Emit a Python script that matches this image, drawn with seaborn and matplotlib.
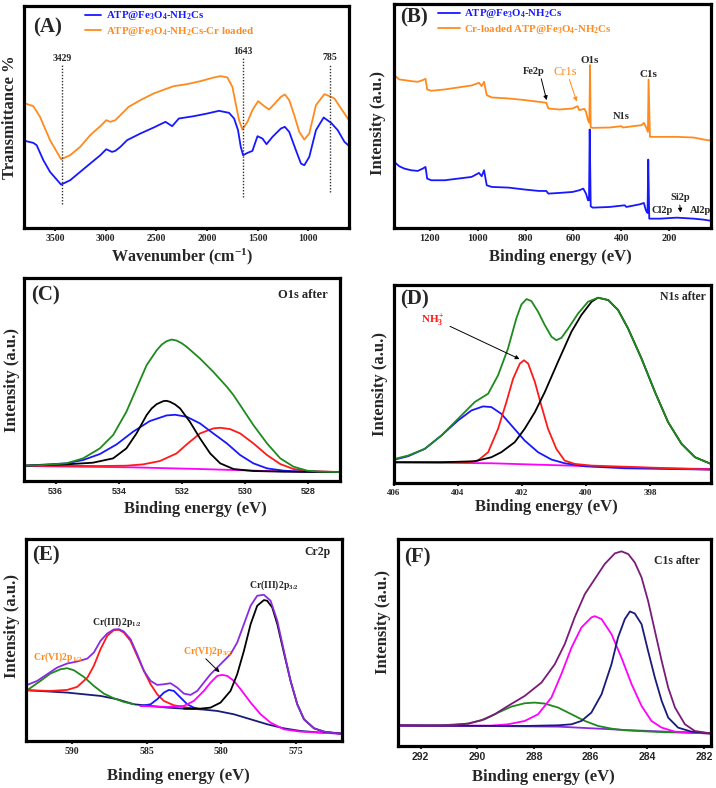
import matplotlib
matplotlib.use("Agg")
import matplotlib.pyplot as plt
import seaborn as sns

# ---------------- data ----------------
# (A) FTIR
a_ticks = [3500, 3000, 2500, 2000, 1500, 1000]
a_wn_blue = [3797, 3715, 3682, 3616, 3550, 3441, 3352, 3253, 3154, 3054, 2995, 2939, 2906, 2856, 2790, 2659, 2527, 2411,
             2345, 2279, 2130, 1998, 1883, 1784, 1734, 1695, 1668, 1645, 1602, 1553, 1503, 1454, 1414, 1355, 1272, 1233,
             1190, 1124, 1074, 1041, 992, 926, 850, 777, 711, 645, 596]
a_t_blue = [27.8, 27.2, 26.5, 22.0, 18.5, 14.7, 16.0, 18.5, 21.0, 23.5, 25.3, 24.5, 24.8, 26.0, 28.0, 30.0, 31.8, 33.5,
            32.2, 34.5, 35.2, 36.0, 36.8, 36.2, 34.5, 31.0, 26.0, 23.5, 24.2, 24.8, 29.2, 28.5, 26.8, 29.0, 31.5, 32.0,
            30.5, 25.0, 21.0, 20.5, 23.0, 31.0, 34.8, 33.2, 31.0, 27.5, 26.2]
a_wn_orange = [3797, 3715, 3649, 3550, 3441, 3352, 3253, 3154, 3054, 2995, 2956, 2906, 2856, 2774, 2659, 2527, 2394,
               2328, 2196, 2064, 1932, 1866, 1800, 1751, 1718, 1685, 1652, 1602, 1553, 1497, 1437, 1388, 1338, 1272,
               1233, 1190, 1140, 1091, 1041, 992, 926, 876, 843, 794, 744, 678, 596]
a_t_orange = [39.0, 38.2, 35.0, 28.0, 22.3, 23.5, 26.0, 29.5, 32.2, 34.0, 33.5, 34.0, 35.5, 38.0, 40.0, 42.0, 43.5,
              44.2, 44.8, 45.7, 46.8, 47.2, 46.8, 44.0, 39.0, 34.0, 31.2, 33.5, 37.0, 39.7, 38.2, 37.2, 38.8, 41.0,
              41.7, 40.0, 35.5, 30.5, 28.2, 30.0, 38.5, 40.5, 41.8, 41.2, 40.5, 37.5, 33.8]
a_marks = [3429, 1643, 785]
a_mark_lo = [9.0, 11.0, 12.5]
a_mark_hi = [50.5, 52.5, 50.8]
a_labels = ["ATP@Fe$_3$O$_4$-NH$_2$Cs", "ATP@Fe$_3$O$_4$-NH$_2$Cs-Cr loaded"]

# (B) XPS survey
b_ticks = [1200, 1000, 800, 600, 400, 200]
b_e_orange = [1349.1, 1328.0, 1306.9, 1278.8, 1250.7, 1229.6, 1218.3, 1211.3, 1194.4, 1138.2, 1081.9, 1025.7, 994.7,
              983.5, 973.6, 962.4, 941.3, 871.0, 800.6, 744.4, 713.4, 705.0, 660.0, 603.8, 582.7, 575.6, 554.5, 547.5,
              539.1, 533.4, 530.6, 527.8, 519.4, 449.1, 399.9, 392.8, 350.6, 315.5, 305.6, 297.2, 288.7, 285.9, 280.3,
              238.1, 167.8, 97.5, 55.3, 20.2]
b_i_orange = [47.5, 46.2, 46.0, 45.7, 45.5, 46.0, 46.4, 43.2, 42.8, 43.2, 43.8, 44.4, 45.2, 44.2, 45.5, 41.5, 40.8,
              40.5, 40.0, 39.5, 39.2, 37.5, 37.2, 37.5, 38.2, 37.0, 37.4, 36.5, 34.0, 33.2, 50.5, 31.8, 31.7, 31.8,
              32.2, 31.8, 32.2, 32.5, 33.2, 32.0, 30.5, 46.2, 29.0, 29.0, 29.0, 28.8, 28.2, 27.8]
b_e_blue = [1349.1, 1328.0, 1306.9, 1278.8, 1250.7, 1229.6, 1218.3, 1211.3, 1194.4, 1138.2, 1081.9, 1025.7, 994.7,
            983.5, 973.6, 962.4, 941.3, 871.0, 800.6, 744.4, 713.4, 705.0, 660.0, 603.8, 575.6, 558.8, 547.5, 539.1,
            534.9, 532.0, 527.8, 519.4, 449.1, 385.8, 378.8, 322.5, 305.6, 297.2, 290.2, 287.3, 283.1, 238.1, 167.8,
            97.5, 55.3, 20.2]
b_i_blue = [21.5, 20.2, 19.5, 19.0, 18.8, 19.5, 20.0, 16.5, 16.0, 16.0, 16.5, 17.0, 18.2, 17.2, 19.0, 14.5, 14.0,
            13.8, 13.2, 12.8, 12.8, 12.0, 12.2, 12.5, 13.0, 13.5, 12.0, 10.0, 10.0, 31.2, 8.2, 7.8, 8.0, 8.5, 8.0,
            8.8, 9.2, 7.0, 6.2, 22.2, 4.5, 4.5, 4.8, 4.5, 4.2, 3.8]
b_labels = ["ATP@Fe$_3$O$_4$-NH$_2$Cs", "Cr-loaded ATP@Fe$_3$O$_4$-NH$_2$Cs"]

# (C) O1s
c_ticks = [536, 534, 532, 530, 528]
c_e_green = [536.98, 536.40, 535.66, 535.13, 534.60, 534.18, 533.76, 533.44, 533.12, 532.80, 532.64, 532.49, 532.33,
             532.17, 532.01, 531.85, 531.43, 531.01, 530.58, 530.37, 530.16, 529.74, 529.31, 528.89, 528.47, 528.04,
             527.62, 527.04]
c_i_green = [6.8, 7.0, 7.5, 9.0, 12.0, 16.0, 23.0, 30.0, 37.0, 41.5, 43.2, 44.2, 44.7, 44.4, 43.6, 42.5, 39.0, 35.0,
             30.5, 28.0, 25.0, 19.0, 13.5, 9.0, 6.5, 5.3, 5.0, 4.9]
c_e_black = [536.98, 535.66, 534.82, 534.18, 533.76, 533.44, 533.12, 532.96, 532.80, 532.59, 532.49, 532.38, 532.22,
             532.06, 531.75, 531.43, 531.11, 530.79, 530.37, 529.74, 528.78, 527.04]
c_i_black = [6.8, 7.2, 7.7, 9.0, 12.0, 16.5, 22.0, 24.0, 25.3, 26.2, 26.3, 26.0, 25.2, 24.0, 20.0, 15.0, 10.5, 7.5,
             5.8, 5.2, 5.0, 4.9]
c_e_blue = [536.98, 535.66, 535.13, 534.60, 534.07, 533.55, 533.02, 532.49, 532.22, 531.85, 531.43, 531.01, 530.58,
            530.16, 529.74, 529.31, 528.78, 528.25, 527.04]
c_i_blue = [6.8, 7.5, 8.5, 10.3, 13.2, 17.0, 20.2, 21.9, 22.1, 21.5, 19.5, 16.5, 13.5, 10.0, 7.5, 6.0, 5.3, 5.0, 4.9]
c_e_red = [536.98, 534.60, 533.76, 533.23, 532.70, 532.17, 531.85, 531.43, 531.01, 530.79, 530.48, 530.16, 529.74,
           529.31, 528.89, 528.47, 528.04, 527.04]
c_i_red = [6.8, 6.7, 6.8, 7.2, 8.2, 10.5, 13.2, 16.5, 18.0, 18.2, 17.8, 16.5, 13.5, 10.0, 7.3, 5.8, 5.2, 4.9]
c_e_base = [536.98, 533.55, 531.43, 529.31, 527.04]
c_i_base = [6.7, 6.3, 5.8, 5.2, 4.9]

# (D) N1s
d_ticks = [406, 404, 402, 400, 398]
d_e_green = [405.98, 405.56, 405.04, 404.52, 404.00, 403.48, 403.06, 402.75, 402.44, 402.18, 402.02, 401.86, 401.71,
             401.50, 401.29, 401.08, 400.93, 400.77, 400.56, 400.25, 399.94, 399.63, 399.31, 399.00, 398.69, 398.27,
             397.85, 397.44, 397.02, 396.60, 396.10]
d_i_green = [9.0, 10.0, 12.0, 16.0, 21.0, 26.0, 28.5, 34.0, 42.0, 51.0, 55.2, 56.8, 56.2, 53.0, 49.0, 45.5, 44.5, 45.2,
             48.0, 52.5, 56.0, 57.2, 56.5, 53.5, 48.0, 39.0, 29.0, 20.0, 13.5, 9.5, 7.5]
d_e_black = [405.98, 404.52, 403.48, 402.96, 402.65, 402.23, 401.92, 401.60, 401.29, 400.88, 400.46, 400.15, 399.83,
             399.63, 399.31, 399.00, 398.69, 398.27, 397.85, 397.44, 397.02, 396.60, 396.10]
d_i_black = [8.0, 8.0, 8.3, 9.5, 11.0, 14.0, 18.0, 23.0, 29.0, 38.0, 47.0, 52.0, 56.0, 57.2, 56.5, 53.5, 48.0, 39.0,
             29.0, 20.0, 13.5, 9.5, 7.5]
d_e_red = [405.98, 403.69, 403.38, 403.06, 402.75, 402.49, 402.28, 402.07, 401.94, 401.81, 401.60, 401.40, 401.19,
           400.93, 400.67, 400.35, 399.83, 396.10]
d_i_red = [8.0, 8.0, 8.5, 11.0, 18.0, 26.0, 33.0, 37.5, 38.5, 37.5, 32.0, 25.0, 18.0, 12.0, 8.5, 7.5, 7.0, 5.8]
d_e_blue = [405.98, 405.56, 405.04, 404.52, 404.00, 403.58, 403.22, 402.96, 402.65, 402.33, 401.92, 401.50, 401.08,
            400.67, 400.04, 398.79, 396.10]
d_i_blue = [8.8, 9.8, 12.0, 16.0, 20.5, 23.5, 24.7, 24.5, 22.5, 19.0, 14.5, 11.0, 8.8, 7.7, 6.8, 6.2, 5.8]
d_e_base = [405.98, 402.96, 399.83, 397.75, 396.10]
d_i_base = [8.0, 7.7, 6.8, 6.2, 6.0]

# (E) Cr2p
e_ticks = [590, 585, 580, 575]
e_e_env = [593.02, 592.35, 591.68, 591.01, 590.34, 589.67, 588.98, 588.55, 588.10, 587.65, 587.21, 586.87, 586.54,
           586.09, 585.64, 585.19, 584.74, 584.30, 583.85, 583.40, 582.96, 582.51, 582.06, 581.61, 581.17, 580.72,
           580.05, 579.38, 578.93, 578.48, 578.03, 577.59, 577.14, 576.69, 576.24, 575.80, 575.35, 574.90, 574.45,
           573.78, 573.11, 572.44, 571.95]
e_i_env = [19.8, 21.0, 23.0, 25.0, 26.2, 26.8, 27.7, 29.5, 33.0, 35.2, 36.4, 36.5, 35.8, 33.5, 29.0, 24.0, 21.0, 19.8,
           20.0, 20.3, 19.0, 17.2, 16.8, 18.0, 20.5, 23.0, 26.0, 29.0, 32.5, 38.0, 43.5, 46.5, 46.8, 45.0, 39.0, 30.0,
           21.0, 14.0, 9.5, 6.8, 5.8, 5.4, 5.2]
e_e_base = [593.02, 590.34, 588.10, 586.98, 585.86, 584.74, 583.63, 582.51, 581.39, 580.27, 579.15, 578.03, 576.91,
            575.80, 574.68, 573.56, 571.95]
e_i_base = [18.2, 17.5, 16.5, 15.5, 14.0, 13.5, 13.0, 12.7, 12.5, 12.0, 11.0, 9.5, 8.0, 6.8, 6.0, 5.6, 5.2]
e_e_green = [593.02, 592.13, 591.46, 590.78, 590.34, 589.89, 589.22, 588.55, 587.88, 587.21, 586.54, 585.86]
e_i_green = [18.2, 21.0, 23.2, 24.5, 24.8, 24.2, 22.2, 19.5, 17.2, 15.8, 14.7, 14.0]
e_e_red = [593.02, 591.46, 590.34, 589.67, 588.98, 588.55, 588.10, 587.65, 587.21, 586.87, 586.54, 586.09, 585.64,
           585.19, 584.74, 584.30, 583.85, 583.18, 582.28, 581.39]
e_i_red = [18.2, 18.0, 18.3, 19.2, 22.0, 25.5, 30.5, 34.5, 36.2, 36.3, 35.5, 33.0, 28.5, 24.0, 20.0, 17.0, 15.0, 13.7,
           13.0, 12.5]
e_e_blue = [585.42, 584.74, 584.30, 583.85, 583.51, 583.18, 582.73, 582.28, 581.84, 581.39]
e_i_blue = [13.5, 14.0, 15.5, 17.5, 18.3, 18.0, 16.0, 14.0, 13.0, 12.5]
e_e_mag = [585.42, 583.63, 582.51, 581.84, 581.17, 580.72, 580.27, 579.94, 579.60, 579.15, 578.70, 578.03, 577.36,
           576.69, 575.80, 574.68, 571.95]
e_i_mag = [13.5, 13.2, 13.5, 15.0, 18.0, 20.5, 22.5, 22.8, 22.5, 21.0, 18.5, 14.5, 11.0, 8.5, 6.5, 5.8, 5.2]
e_e_black = [582.51, 581.39, 580.72, 580.05, 579.38, 578.93, 578.48, 578.03, 577.59, 577.14, 576.92, 576.58, 576.24,
             575.80, 575.35, 574.90, 574.45, 573.78, 573.11, 571.95]
e_i_black = [12.7, 12.7, 13.0, 14.5, 18.0, 23.0, 30.0, 38.0, 43.5, 45.2, 45.0, 43.0, 38.0, 29.5, 21.0, 14.0, 9.5, 6.8,
             5.8, 5.2]

# (F) C1s
f_ticks = [292, 290, 288, 286, 284, 282]
f_e_env = [292.80, 291.86, 290.92, 290.33, 289.86, 289.39, 288.92, 288.33, 287.74, 287.27, 286.92, 286.57, 286.21,
           285.86, 285.51, 285.15, 284.92, 284.68, 284.45, 284.21, 283.98, 283.74, 283.50, 283.27, 283.03, 282.68,
           282.33, 281.80]
f_i_env = [7.7, 7.6, 7.7, 8.2, 9.2, 11.0, 13.5, 16.5, 20.5, 26.0, 32.0, 40.0, 47.0, 51.5, 56.0, 59.2, 59.8, 59.0, 56.5,
           52.0, 45.0, 36.0, 27.0, 19.0, 13.0, 8.0, 6.0, 5.3]
f_e_green = [292.80, 291.27, 290.33, 289.74, 289.27, 288.80, 288.33, 287.98, 287.62, 287.15, 286.68, 286.21, 285.74,
             285.27, 284.80, 283.62, 281.80]
f_i_green = [7.7, 7.7, 8.2, 9.5, 11.5, 13.3, 14.3, 14.5, 14.2, 13.0, 11.0, 9.0, 7.5, 6.7, 6.2, 5.7, 5.3]
f_e_mag = [292.80, 289.51, 288.92, 288.33, 287.86, 287.39, 287.04, 286.68, 286.33, 285.98, 285.86, 285.62, 285.27,
           284.92, 284.56, 284.21, 283.86, 283.50, 283.03, 281.80]
f_i_mag = [7.6, 7.6, 8.0, 9.0, 11.0, 16.0, 23.0, 31.0, 37.0, 40.0, 40.4, 39.5, 35.0, 28.0, 20.0, 13.5, 9.0, 7.0, 5.8,
           5.3]
f_e_navy = [292.80, 288.33, 287.15, 286.68, 286.33, 285.98, 285.62, 285.27, 285.04, 284.80, 284.62, 284.45, 284.21,
            283.98, 283.74, 283.50, 283.27, 282.92, 282.45, 281.80]
f_i_navy = [7.6, 7.5, 7.7, 8.0, 9.0, 11.5, 17.0, 26.0, 34.0, 39.5, 41.8, 41.2, 38.0, 30.0, 22.0, 15.0, 10.0, 7.0, 5.8,
            5.3]
f_e_base = [292.80, 287.15, 284.80, 282.45, 281.80]
f_i_base = [7.7, 7.3, 6.3, 5.5, 5.2]

# ---------------- styling ----------------
sns.set_style("white")
plt.rcParams['font.family'] = ['Liberation Serif', 'DejaVu Serif']
plt.rcParams['font.weight'] = 'bold'
plt.rcParams['mathtext.fontset'] = 'custom'
plt.rcParams['mathtext.rm'] = 'Liberation Serif:bold'
plt.rcParams['mathtext.bf'] = 'Liberation Serif:bold'
plt.rcParams['mathtext.it'] = 'Liberation Serif:italic:bold'
plt.rcParams['mathtext.default'] = 'rm'

BLUE = '#1818ff'
ORANGE = '#ff8a1e'
GREEN = '#1e8a1e'
RED = '#ff1a1a'
MAG = '#ff00ff'
NAVY = '#1a1a7a'
VIOLET = '#8a2be2'
PURPLE = '#7a1a7a'
LW = 1.3

fig = plt.figure(figsize=(7.16, 7.88), dpi=100)
W, H = 716.0, 788.0


def add_ax(l, r, t, b):
    return fig.add_axes([l / W, 1 - b / H, (r - l) / W, (b - t) / H])


def line(ax, x, y, color, label=None, lw=LW):
    sns.lineplot(x=x, y=y, color=color, ax=ax, sort=False, estimator=None, lw=lw,
                 label=label, legend=bool(label))


def style(ax, xlim, ylim, ticks, tfont, tsize, xl, xlpos, yl, ylpos):
    ax.set_xlim(*xlim)
    ax.set_ylim(*ylim)
    ax.set_yticks([])
    ax.set_xticks(ticks, labels=[str(t) for t in ticks], fontsize=tsize, fontfamily=tfont, fontweight='bold')
    ax.tick_params(axis='x', bottom=True, direction='out', length=2.5, width=1.5, pad=1.5)
    for s in ax.spines.values():
        s.set_visible(True)
        s.set_linewidth(2.3)
        s.set_color('black')
    ax.set_xlabel(xl, fontsize=12, fontweight='bold', va='center')
    ax.xaxis.set_label_coords(*xlpos)
    ax.set_ylabel(yl, fontsize=12, fontweight='bold', va='center')
    ax.yaxis.set_label_coords(*ylpos)


def panel_letter(ax, txt, x, y):
    ax.text(x, y, txt, transform=ax.transAxes, fontsize=15, fontweight='bold', ha='left', va='center')


# ---- (A)
axA = add_ax(24, 349, 6, 228)
line(axA, a_wn_blue, a_t_blue, BLUE, a_labels[0])
line(axA, a_wn_orange, a_t_orange, ORANGE, a_labels[1])
for m, lo, hi in zip(a_marks, a_mark_lo, a_mark_hi):
    axA.plot([m, m], [lo, hi], color='#333333', lw=1.0, ls=(0, (1, 1.2)))
    axA.text(m, hi + 0.6, str(m), ha='center', va='bottom', fontsize=7, fontweight='bold')
style(axA, (3807, 600), (1.7, 68.2), a_ticks, ['Liberation Serif'], 7,
      "Wavenumber (cm$^{-1}$)", (0.485, -0.128), "Transmittance %", (-0.043, 0.5))
axA.xaxis.label.set_fontsize(11.5)
leg = axA.legend(loc='upper left', bbox_to_anchor=(0.188, 0.985), frameon=False, fontsize=7.8,
                 handlelength=1.5, handletextpad=0.4, labelspacing=0.25, borderpad=0, borderaxespad=0,
                 labelcolor='linecolor')
panel_letter(axA, "(A)", 0.029, 0.905)

# ---- (B)
axB = add_ax(394, 711, 4, 228)
line(axB, b_e_blue, b_i_blue, BLUE, b_labels[0])
line(axB, b_e_orange, b_i_orange, ORANGE, b_labels[1])
style(axB, (1350, 25), (1.7, 68.8), b_ticks, ['Liberation Serif'], 7.5,
      "Binding energy (eV)", (0.524, -0.128), "Intensity (a.u.)", (-0.05, 0.47))
axB.legend(loc='upper left', bbox_to_anchor=(0.139, 0.985), frameon=False, fontsize=7.8,
           handlelength=2.0, handletextpad=0.35, labelspacing=0.25, borderpad=0, borderaxespad=0,
           labelcolor='linecolor')
panel_letter(axB, "(B)", 0.018, 0.94)
axB.text(533.4, 52.0, "O1s", ha='center', va='center', fontsize=8, fontweight='bold')
axB.text(287.3, 47.8, "C1s", ha='center', va='center', fontsize=8, fontweight='bold')
axB.text(765.5, 48.5, "Fe2p", ha='center', va='center', fontsize=7.5, fontweight='bold')
axB.text(631.9, 48.5, "Cr1s", ha='center', va='center', fontsize=9, fontweight='normal', color=ORANGE)
axB.text(399.9, 35.0, "N1s", ha='center', va='center', fontsize=7.5, fontweight='bold')
axB.text(228.3, 6.8, "Cl2p", ha='center', va='center', fontsize=7.5, fontweight='bold')
axB.text(153.8, 10.8, "Si2p", ha='center', va='center', fontsize=7.5, fontweight='bold')
axB.text(69.4, 6.8, "Al2p", ha='center', va='center', fontsize=7.5, fontweight='bold')
axB.annotate('', xy=(709.2, 39.2), xytext=(737.3, 47.2),
             arrowprops=dict(arrowstyle='-|>', color='black', lw=0.7, mutation_scale=6))
axB.annotate('', xy=(582.7, 38.8), xytext=(620.6, 47.0),
             arrowprops=dict(arrowstyle='-|>', color=ORANGE, lw=0.7, mutation_scale=6))
axB.annotate('', xy=(151.0, 5.5), xytext=(156.5, 9.4),
             arrowprops=dict(arrowstyle='-|>', color='black', lw=0.7, mutation_scale=6))

# ---- (C)
axC = add_ax(24, 340, 278, 481)
line(axC, c_e_base, c_i_base, MAG)
line(axC, c_e_red, c_i_red, RED)
line(axC, c_e_blue, c_i_blue, BLUE)
line(axC, c_e_black, c_i_black, 'black')
line(axC, c_e_green, c_i_green, GREEN)
style(axC, (537.0, 527.0), (2.2, 63.2), c_ticks, ['Liberation Sans'], 6.5,
      "Binding energy (eV)", (0.541, -0.138), "Intensity (a.u.)", (-0.039, 0.496))
panel_letter(axC, "(C)", 0.024, 0.915)
axC.text(0.962, 0.915, "O1s after", transform=axC.transAxes, ha='right', va='center', fontsize=9, fontweight='bold')

# ---- (D)
axD = add_ax(394, 711, 285, 483)
line(axD, d_e_base, d_i_base, MAG)
line(axD, d_e_blue, d_i_blue, BLUE)
line(axD, d_e_red, d_i_red, RED)
line(axD, d_e_black, d_i_black, 'black')
line(axD, d_e_green, d_i_green, GREEN)
style(axD, (406.0, 396.1), (1.8, 61.0), d_ticks, ['Liberation Serif'], 6.5,
      "Binding energy (eV)", (0.48, -0.121), "Intensity (a.u.)", (-0.045, 0.5))
panel_letter(axD, "(D)", 0.018, 0.928)
axD.text(0.985, 0.939, "N1s after", transform=axD.transAxes, ha='right', va='center', fontsize=8.5,
         fontweight='bold')
axD.text(404.78, 50.5, "NH$_3^+$", ha='center', va='center', fontsize=8, color=RED)
axD.annotate('', xy=(402.0, 38.5), xytext=(404.33, 49.0),
             arrowprops=dict(arrowstyle='-|>', color='black', lw=0.7, mutation_scale=6))

# ---- (E)
axE = add_ax(26, 342, 539, 741)
line(axE, e_e_base, e_i_base, NAVY)
line(axE, e_e_green, e_i_green, GREEN)
line(axE, e_e_red, e_i_red, RED)
line(axE, e_e_blue, e_i_blue, BLUE)
line(axE, e_e_mag, e_i_mag, MAG)
line(axE, e_e_black, e_i_black, 'black')
line(axE, e_e_env, e_i_env, VIOLET)
style(axE, (593.1, 571.9), (3.0, 63.5), e_ticks, ['Liberation Serif'], 7,
      "Binding energy (eV)", (0.481, -0.173), "Intensity (a.u.)", (-0.045, 0.57))
panel_letter(axE, "(E)", 0.018, 0.917)
axE.text(573.56, 59.5, "Cr2p", ha='center', va='center', fontsize=8.5, fontweight='bold')
axE.text(576.47, 49.5, "Cr(III)2p$_{3/2}$", ha='center', va='center', fontsize=7, fontweight='bold')
axE.text(586.98, 38.5, "Cr(III)2p$_{1/2}$", ha='center', va='center', fontsize=7, fontweight='bold')
axE.text(591.0, 28.2, "Cr(VI)2p$_{1/2}$", ha='center', va='center', fontsize=7, fontweight='bold', color=ORANGE)
axE.text(580.94, 29.8, "Cr(VI)2p$_{3/2}$", ha='center', va='center', fontsize=7, fontweight='bold', color=ORANGE)
axE.annotate('', xy=(579.98, 23.0), xytext=(581.17, 28.2),
             arrowprops=dict(arrowstyle='-|>', color='black', lw=0.7, mutation_scale=6))

# ---- (F)
axF = add_ax(398, 711, 539, 746)
line(axF, f_e_base, f_i_base, VIOLET)
line(axF, f_e_green, f_i_green, GREEN)
line(axF, f_e_mag, f_i_mag, MAG)
line(axF, f_e_navy, f_i_navy, NAVY)
line(axF, f_e_env, f_i_env, PURPLE)
style(axF, (292.8, 281.76), (1.5, 63.5), f_ticks, ['Liberation Sans'], 7.5,
      "Binding energy (eV)", (0.463, -0.15), "Intensity (a.u.)", (-0.048, 0.6))
panel_letter(axF, "(F)", 0.021, 0.912)
axF.text(0.964, 0.892, "C1s after", transform=axF.transAxes, ha='right', va='center', fontsize=8.5,
         fontweight='bold')

fig.savefig("out.png", dpi=100)
